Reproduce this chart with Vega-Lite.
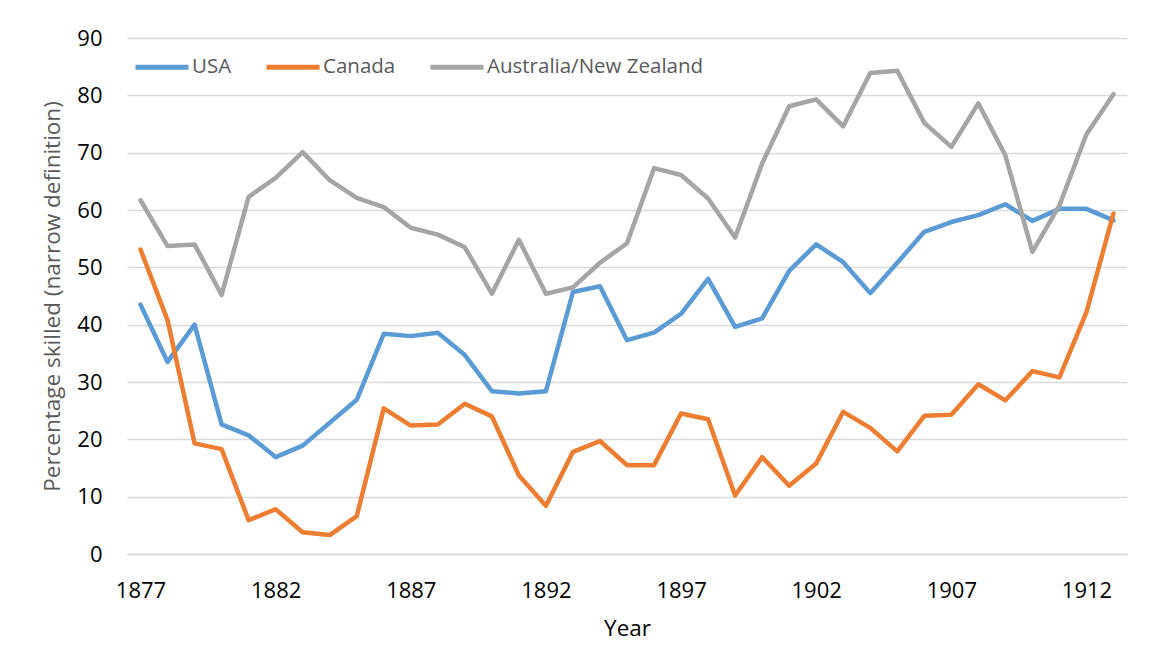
{
  "$schema": "https://vega.github.io/schema/vega-lite/v6.json",
  "width": 1000,
  "height": 516,
  "autosize": "none",
  "padding": {"left": 127, "top": 38, "right": 30, "bottom": 108},
  "background": "white",
  "config": {"view": {"stroke": null}, "font": "Open Sans"},
  "data": {"values": [
    {"year":1877,"series":"USA","value":43.5},{"year":1878,"series":"USA","value":33.5},{"year":1879,"series":"USA","value":40.0},{"year":1880,"series":"USA","value":22.6},{"year":1881,"series":"USA","value":20.7},{"year":1882,"series":"USA","value":16.9},{"year":1883,"series":"USA","value":18.9},{"year":1884,"series":"USA","value":22.9},{"year":1885,"series":"USA","value":26.9},{"year":1886,"series":"USA","value":38.4},{"year":1887,"series":"USA","value":38.0},{"year":1888,"series":"USA","value":38.6},{"year":1889,"series":"USA","value":34.7},{"year":1890,"series":"USA","value":28.4},{"year":1891,"series":"USA","value":28.0},{"year":1892,"series":"USA","value":28.4},{"year":1893,"series":"USA","value":45.7},{"year":1894,"series":"USA","value":46.7},{"year":1895,"series":"USA","value":37.3},{"year":1896,"series":"USA","value":38.6},{"year":1897,"series":"USA","value":41.9},{"year":1898,"series":"USA","value":48.0},{"year":1899,"series":"USA","value":39.6},{"year":1900,"series":"USA","value":41.1},{"year":1901,"series":"USA","value":49.4},{"year":1902,"series":"USA","value":54.0},{"year":1903,"series":"USA","value":50.9},{"year":1904,"series":"USA","value":45.5},{"year":1905,"series":"USA","value":50.8},{"year":1906,"series":"USA","value":56.2},{"year":1907,"series":"USA","value":57.9},{"year":1908,"series":"USA","value":59.1},{"year":1909,"series":"USA","value":61.0},{"year":1910,"series":"USA","value":58.1},{"year":1911,"series":"USA","value":60.2},{"year":1912,"series":"USA","value":60.2},{"year":1913,"series":"USA","value":58.2},
    {"year":1877,"series":"Canada","value":53.1},{"year":1878,"series":"Canada","value":40.8},{"year":1879,"series":"Canada","value":19.3},{"year":1880,"series":"Canada","value":18.3},{"year":1881,"series":"Canada","value":5.9},{"year":1882,"series":"Canada","value":7.8},{"year":1883,"series":"Canada","value":3.8},{"year":1884,"series":"Canada","value":3.3},{"year":1885,"series":"Canada","value":6.6},{"year":1886,"series":"Canada","value":25.4},{"year":1887,"series":"Canada","value":22.4},{"year":1888,"series":"Canada","value":22.6},{"year":1889,"series":"Canada","value":26.2},{"year":1890,"series":"Canada","value":24.0},{"year":1891,"series":"Canada","value":13.7},{"year":1892,"series":"Canada","value":8.4},{"year":1893,"series":"Canada","value":17.8},{"year":1894,"series":"Canada","value":19.7},{"year":1895,"series":"Canada","value":15.5},{"year":1896,"series":"Canada","value":15.5},{"year":1897,"series":"Canada","value":24.5},{"year":1898,"series":"Canada","value":23.5},{"year":1899,"series":"Canada","value":10.2},{"year":1900,"series":"Canada","value":16.9},{"year":1901,"series":"Canada","value":11.9},{"year":1902,"series":"Canada","value":15.8},{"year":1903,"series":"Canada","value":24.8},{"year":1904,"series":"Canada","value":22.0},{"year":1905,"series":"Canada","value":17.9},{"year":1906,"series":"Canada","value":24.1},{"year":1907,"series":"Canada","value":24.3},{"year":1908,"series":"Canada","value":29.6},{"year":1909,"series":"Canada","value":26.8},{"year":1910,"series":"Canada","value":31.9},{"year":1911,"series":"Canada","value":30.8},{"year":1912,"series":"Canada","value":42.2},{"year":1913,"series":"Canada","value":59.4},
    {"year":1877,"series":"Australia/New Zealand","value":61.7},{"year":1878,"series":"Australia/New Zealand","value":53.7},{"year":1879,"series":"Australia/New Zealand","value":54.0},{"year":1880,"series":"Australia/New Zealand","value":45.2},{"year":1881,"series":"Australia/New Zealand","value":62.3},{"year":1882,"series":"Australia/New Zealand","value":65.6},{"year":1883,"series":"Australia/New Zealand","value":70.1},{"year":1884,"series":"Australia/New Zealand","value":65.2},{"year":1885,"series":"Australia/New Zealand","value":62.1},{"year":1886,"series":"Australia/New Zealand","value":60.5},{"year":1887,"series":"Australia/New Zealand","value":56.9},{"year":1888,"series":"Australia/New Zealand","value":55.7},{"year":1889,"series":"Australia/New Zealand","value":53.5},{"year":1890,"series":"Australia/New Zealand","value":45.4},{"year":1891,"series":"Australia/New Zealand","value":54.8},{"year":1892,"series":"Australia/New Zealand","value":45.4},{"year":1893,"series":"Australia/New Zealand","value":46.5},{"year":1894,"series":"Australia/New Zealand","value":50.8},{"year":1895,"series":"Australia/New Zealand","value":54.2},{"year":1896,"series":"Australia/New Zealand","value":67.3},{"year":1897,"series":"Australia/New Zealand","value":66.1},{"year":1898,"series":"Australia/New Zealand","value":62.0},{"year":1899,"series":"Australia/New Zealand","value":55.2},{"year":1900,"series":"Australia/New Zealand","value":68.1},{"year":1901,"series":"Australia/New Zealand","value":78.1},{"year":1902,"series":"Australia/New Zealand","value":79.3},{"year":1903,"series":"Australia/New Zealand","value":74.6},{"year":1904,"series":"Australia/New Zealand","value":83.9},{"year":1905,"series":"Australia/New Zealand","value":84.3},{"year":1906,"series":"Australia/New Zealand","value":75.2},{"year":1907,"series":"Australia/New Zealand","value":71.0},{"year":1908,"series":"Australia/New Zealand","value":78.6},{"year":1909,"series":"Australia/New Zealand","value":69.5},{"year":1910,"series":"Australia/New Zealand","value":52.7},{"year":1911,"series":"Australia/New Zealand","value":60.8},{"year":1912,"series":"Australia/New Zealand","value":73.2},{"year":1913,"series":"Australia/New Zealand","value":80.2}
  ]},
  "mark": {"type": "line", "strokeWidth": 4.5, "strokeCap": "round", "strokeJoin": "round"},
  "encoding": {
    "x": {
      "field": "year", "type": "quantitative",
      "scale": {"domain": [1876.5, 1913.5], "nice": false, "zero": false},
      "axis": {
        "values": [1877, 1882, 1887, 1892, 1897, 1902, 1907, 1912],
        "format": "d", "grid": false, "ticks": false, "labelFlush": false,
        "domainColor": "#d9d9d9", "domainWidth": 1.3,
        "labelFontSize": 22, "labelColor": "#000000", "labelPadding": 26,
        "title": "Year", "titleFontSize": 22.5, "titleFontWeight": "normal", "titleColor": "#000000", "titlePadding": 16
      }
    },
    "y": {
      "field": "value", "type": "quantitative",
      "scale": {"domain": [0, 90], "nice": false},
      "axis": {
        "values": [0, 10, 20, 30, 40, 50, 60, 70, 80, 90],
        "grid": true, "gridColor": "#d9d9d9", "gridWidth": 1.3,
        "domain": false, "ticks": false,
        "labelFontSize": 22, "labelColor": "#000000", "labelPadding": 25,
        "title": "Percentage skilled (narrow definition)", "titleFontSize": 22.5, "titleFontWeight": "normal", "titleColor": "#595959", "titlePadding": 12
      }
    },
    "color": {
      "field": "series", "type": "nominal",
      "scale": {"domain": ["USA", "Canada", "Australia/New Zealand"], "range": ["#5B9BD5", "#ED7D31", "#A5A5A5"]},
      "legend": {
        "title": null, "orient": "none", "legendX": 6, "legendY": 0, "direction": "horizontal",
        "symbolType": "stroke", "symbolSize": 2809, "symbolStrokeWidth": 5,
        "labelFontSize": 20.5, "labelColor": "#595959", "labelOffset": 1, "labelLimit": 0, "columnPadding": 24, "padding": 0
      }
    }
  }
}
